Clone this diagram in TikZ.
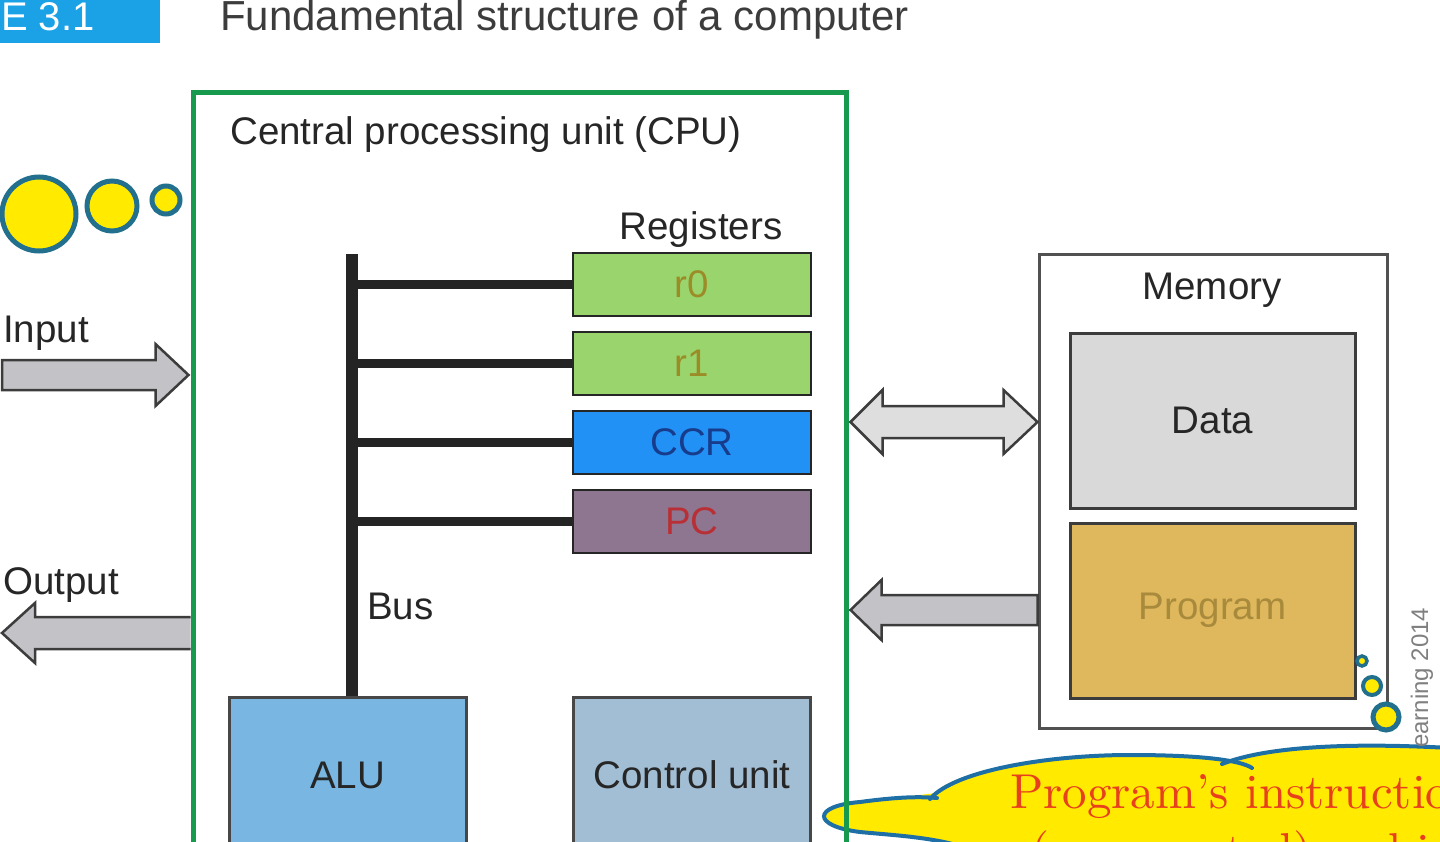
\documentclass[tikz,border=0pt]{standalone}
\usepackage{fontspec}
\newfontfamily\labelfont{Liberation Sans}
\usetikzlibrary{positioning,calc}

\definecolor{cpugreen}{HTML}{17994E}
\definecolor{bubyellow}{HTML}{FFEA00}
\definecolor{bubedge}{HTML}{22708E}
\definecolor{reggreen}{HTML}{9AD46C}
\definecolor{regtext}{HTML}{9C8C28}
\definecolor{ccrblue}{HTML}{2291F5}
\definecolor{ccrtext}{HTML}{183C8C}
\definecolor{pcmauve}{HTML}{8E7590}
\definecolor{pctext}{HTML}{B83036}
\definecolor{alublue}{HTML}{79B7E2}
\definecolor{ctrlblue}{HTML}{A2BED5}
\definecolor{datagray}{HTML}{D9D9D9}
\definecolor{proggold}{HTML}{DFB75C}
\definecolor{progtext}{HTML}{A88A3C}
\definecolor{arrgray}{HTML}{C3C3C7}
\definecolor{arrlight}{HTML}{DEDEDE}
\definecolor{tagblue}{HTML}{1BA2E6}
\definecolor{cloudedge}{HTML}{1E6FA5}
\definecolor{cloudred}{HTML}{E8401C}
\definecolor{inkgray}{HTML}{262626}

\newcommand\lblsize{\fontsize{38.5}{46}\selectfont}

\tikzset{
    lbl/.style={font=\labelfont\lblsize, text=inkgray, inner sep=0pt},
    reg/.style={lbl, draw=inkgray, line width=2.5pt, minimum width=238pt, minimum height=63pt},
    unitbox/.style={lbl, draw=inkgray!85, line width=3pt, minimum width=237pt, minimum height=156pt},
    membox/.style={lbl, draw=inkgray!90, line width=3pt, minimum width=285pt, minimum height=175pt},
    bubble/.style={circle, draw=bubedge, fill=bubyellow, line width=5pt, inner sep=0pt},
    fatarrow/.style={draw=inkgray!90, line width=2.5pt, line join=miter},
    busline/.style={line width=12pt, draw=inkgray!95!black},
    branch/.style={line width=9pt, draw=inkgray!95!black},
    cloudline/.style={draw=cloudedge, line width=4pt, line cap=round}
}

\begin{document}
\begin{tikzpicture}[x=1pt, y=-1pt]
    \useasboundingbox (0,0) rectangle (1440,842);
    \clip (0,0) rectangle (1440,842);

    \fill[bubyellow] (990,860) .. controls (960,838) and (900,836) .. (860,832)
        .. controls (812,826) and (812,806) .. (860,802)
        .. controls (890,798) and (915,796) .. (935,793)
        .. controls (955,770) and (1050,755) .. (1130,755)
        .. controls (1190,755) and (1225,758) .. (1235,762)
        .. controls (1280,745) and (1360,743) .. (1450,748) -- (1450,860) -- cycle;
    \draw[cloudline] (990,860) .. controls (960,838) and (900,836) .. (860,832)
        .. controls (812,826) and (812,806) .. (860,802)
        .. controls (890,798) and (915,796) .. (937,798);
    \draw[cloudline] (930,799) .. controls (955,770) and (1050,755) .. (1130,755)
        .. controls (1200,755) and (1240,760) .. (1252,768);
    \draw[cloudline] (1222,764) .. controls (1270,745) and (1360,743) .. (1450,748);

    \node[fill=tagblue, minimum width=160pt, minimum height=43pt, inner sep=0pt, anchor=north west] (tag) at (0,0) {};
    \node[font=\labelfont\fontsize{40}{48}\selectfont, text=white, anchor=base west, inner sep=0pt] (tagtext) at (1,31) {E 3.1};
    \node[font=\labelfont\fontsize{42}{50}\selectfont, text=inkgray!90, anchor=base west, inner sep=0pt] (title) at (220,31) {Fundamental structure of a computer};

    \node[draw=cpugreen, line width=5pt, minimum width=653pt, minimum height=810pt, inner sep=0pt] (cpu) at (519.5,498) {};
    \node[lbl, anchor=base west] (cpulabel) at (230,145) {Central processing unit (CPU)};

    \node[bubble, minimum size=74pt] (bub1) at (39,214) {};
    \node[bubble, minimum size=50pt] (bub2) at (112,206) {};
    \node[bubble, minimum size=28pt] (bub3) at (166,200) {};

    \node[lbl, anchor=base] (reglabel) at (701,240) {Registers};
    \node[reg, fill=reggreen, text=regtext] (r0) at (692,284.5) {r0};
    \node[reg, fill=reggreen, text=regtext, below=13.5pt of r0] (r1) {r1};
    \node[reg, fill=ccrblue, text=ccrtext, below=13.5pt of r1] (ccr) {CCR};
    \node[reg, fill=pcmauve, text=pctext, below=13.5pt of ccr] (pc) {PC};

    \node[unitbox, fill=alublue] (alu) at (347.5,775) {ALU};
    \node[unitbox, fill=ctrlblue] (ctrl) at (692,775) {Control unit};

    \coordinate (bustop) at (352,254);
    \draw[busline] (bustop) -- (bustop |- alu.north);
    \foreach \r in {r0,r1,ccr,pc}
        \draw[branch] (bustop |- \r.west) -- (\r.west);
    \node[lbl, anchor=base west] (buslabel) at (367,619) {Bus};

    \node[draw=inkgray!80, line width=3pt, fill=white, minimum width=348pt, minimum height=473pt] (mem) at (1213,491.5) {};
    \node[lbl, anchor=base] (memlabel) at (1212,299) {Memory};
    \node[membox, fill=datagray] (data) at (1212.5,420.5) {Data};
    \node[membox, fill=proggold, text=progtext, below=12pt of data] (prog) {Program};

    \node[bubble, line width=3.5pt, minimum size=10pt] (mb1) at (1362,661) {};
    \node[bubble, line width=4pt, minimum size=18pt] (mb2) at (1372,686) {};
    \node[bubble, minimum size=26pt] (mb3) at (1386,717) {};

    \node[font=\labelfont\fontsize{24}{28}\selectfont, text=gray, rotate=90, anchor=base west, inner sep=0pt] (credit) at (1428,748) {earning 2014};

    \node[lbl, anchor=base west] (inlabel) at (3,342) {Input};
    \coordinate (inS) at (2,375);
    \coordinate (inT) at ($(cpu.west |- inS)+(-2,0)$);
    \draw[fatarrow, fill=arrgray] ($(inS)+(0,-15)$) -- ($(inT)+(-33,-15)$) -- ($(inT)+(-33,-31)$) -- (inT)
        -- ($(inT)+(-33,31)$) -- ($(inT)+(-33,15)$) -- ($(inS)+(0,15)$) -- cycle;

    \node[lbl, anchor=base west] (outlabel) at (3,594) {Output};
    \coordinate (outT) at (2,633);
    \coordinate (outS) at (cpu.west |- outT);
    \draw[fatarrow, fill=arrgray] ($(outS)+(0,-16)$) -- ($(outT)+(33,-16)$) -- ($(outT)+(33,-30)$) -- (outT)
        -- ($(outT)+(33,30)$) -- ($(outT)+(33,16)$) -- ($(outS)+(0,16)$);

    \coordinate (dbY) at (0,422);
    \coordinate (dbL) at ($(cpu.east |- dbY)+(2,0)$);
    \coordinate (dbR) at (mem.west |- dbY);
    \draw[fatarrow, fill=arrlight] ($(dbL)+(32,-16)$) -- ($(dbR)+(-34,-16)$) -- ($(dbR)+(-34,-32)$) -- (dbR)
        -- ($(dbR)+(-34,32)$) -- ($(dbR)+(-34,16)$) -- ($(dbL)+(32,16)$) -- ($(dbL)+(32,32)$)
        -- (dbL) -- ($(dbL)+(32,-32)$) -- cycle;

    \coordinate (pgY) at (0,610);
    \coordinate (pgT) at ($(cpu.east |- pgY)+(2,0)$);
    \coordinate (pgS) at (mem.west |- pgY);
    \draw[fatarrow, fill=arrgray] (pgS) -- ($(pgS)+(0,-15)$) -- ($(pgT)+(31,-15)$) -- ($(pgT)+(31,-30)$) -- (pgT)
        -- ($(pgT)+(31,30)$) -- ($(pgT)+(31,15)$) -- ($(pgS)+(0,15)$) -- cycle;

    \node[text=cloudred, anchor=base west, inner sep=0pt] (note1) at (1010,808) {\scalebox{4.9}{Program's instructions}};
    \node[text=cloudred, anchor=base west, inner sep=0pt] (note2) at (1030,867) {\scalebox{4.9}{(represented) as binary}};
\end{tikzpicture}
\end{document}
